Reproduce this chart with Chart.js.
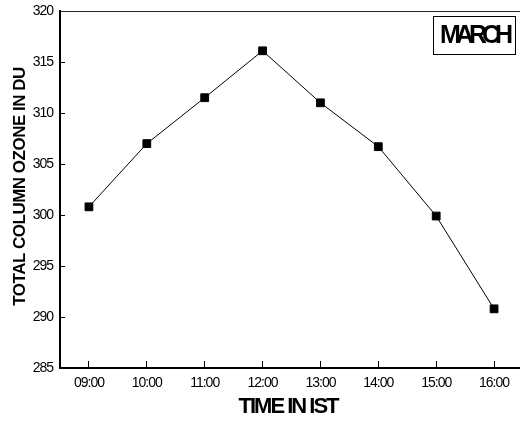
<!DOCTYPE html>
<html>
<head>
<meta charset="utf-8">
<title>Total column ozone - March</title>
<script src="https://cdn.jsdelivr.net/npm/chart.js@4.4.1/dist/chart.umd.min.js"></script>
<style>
  html, body { margin: 0; padding: 0; background: #fff; overflow: hidden; }
  /* plot box runs a few px past the right edge of the window */
  #wrap { position: relative; width: 523px; height: 421px; }
</style>
</head>
<body>
<div id="wrap"><canvas id="chart"></canvas></div>
<script>
const TIMES    = ['09:00', '10:00', '11:00', '12:00', '13:00', '14:00', '15:00', '16:00'];
const OZONE_DU = [300.8, 307.0, 311.5, 316.1, 311.0, 306.7, 299.9, 290.8];
const Y_TICKS  = [285, 290, 295, 300, 305, 310, 315, 320];

const MONTH   = 'MARCH';
const X_TITLE = 'TIME IN IST';
const Y_TITLE = 'TOTAL COLUMN OZONE IN DU';

const FONT = "'Liberation Sans', Arial, Helvetica, sans-serif";

/* ── top edge, axis titles and month tag ── */
const decorations = {
  id: 'decorations',
  beforeDraw(chart) {
    // condensed tick labels
    chart.ctx.letterSpacing = '-1px';
  },
  afterDraw(chart) {
    const { ctx, chartArea: a } = chart;
    ctx.save();

    // top edge of the plot box
    ctx.strokeStyle = '#222';
    ctx.lineWidth = 1;
    ctx.beginPath();
    ctx.moveTo(a.left, a.top + 0.5);
    ctx.lineTo(a.right, a.top + 0.5);
    ctx.stroke();

    ctx.fillStyle = '#000';
    ctx.textBaseline = 'middle';

    // x title
    ctx.letterSpacing = '-2px';
    ctx.font = `bold 22px ${FONT}`;
    ctx.textAlign = 'left';
    const xw = ctx.measureText(X_TITLE).width;
    ctx.fillText(X_TITLE, 288 - xw / 2, 407);

    // y title
    ctx.letterSpacing = '-0.5px';
    ctx.font = `bold 17px ${FONT}`;
    const yw = ctx.measureText(Y_TITLE).width;
    ctx.save();
    ctx.translate(20, (a.top + a.bottom) / 2 - 3);
    ctx.rotate(-Math.PI / 2);
    ctx.fillText(Y_TITLE, -yw / 2, 0);
    ctx.restore();

    // month tag
    ctx.strokeStyle = '#000';
    ctx.strokeRect(433.5, 16.5, 82, 38);
    ctx.letterSpacing = '-5px';
    ctx.font = `bold 25px ${FONT}`;
    ctx.fillText(MONTH, 440, 36.5);

    ctx.restore();
  }
};

new Chart(document.getElementById('chart'), {
  type: 'line',
  data: {
    labels: TIMES,
    datasets: [{
      data: OZONE_DU,
      borderColor: '#000',
      borderWidth: 1,
      pointStyle: 'rect',
      pointRadius: 5.5,
      pointBackgroundColor: '#000',
      pointBorderColor: '#000',
      pointBorderWidth: 1,
      tension: 0,
    }],
  },
  options: {
    responsive: true,
    maintainAspectRatio: false,
    animation: false,
    devicePixelRatio: 1,
    layout: {
      autoPadding: false,
      padding: { top: 11, left: 0, right: 0, bottom: 0 },
    },
    plugins: {
      legend: { display: false },
      tooltip: { enabled: false },
    },
    scales: {
      x: {
        type: 'category',
        offset: true,
        grid: {
          offset: false,
          drawOnChartArea: false,
          drawTicks: true,
          tickLength: -7,
          color: '#000',
          lineWidth: 1,
        },
        border: { display: true, color: '#000', width: 2 },
        ticks: {
          color: '#000',
          padding: 14,
          maxRotation: 0,
          autoSkip: false,
          font: { family: FONT, size: 14 },
        },
        afterFit: s => {
          s.height = 53;
          s.paddingLeft = 0;
          s.paddingRight = 0;
        },
      },
      y: {
        min: Y_TICKS[0],
        max: Y_TICKS[Y_TICKS.length - 1],
        afterBuildTicks: s => { s.ticks = Y_TICKS.map(v => ({ value: v })); },
        grid: {
          drawOnChartArea: false,
          drawTicks: true,
          tickLength: -5,
          color: '#000',
          lineWidth: 1,
        },
        border: { display: true, color: '#000', width: 2 },
        ticks: {
          color: '#000',
          padding: 12,
          font: { family: FONT, size: 14 },
        },
        afterFit: s => {
          s.width = 60;
          s.paddingTop = 0;
          s.paddingBottom = 0;
        },
      },
    },
  },
  plugins: [decorations],
});
</script>
</body>
</html>
